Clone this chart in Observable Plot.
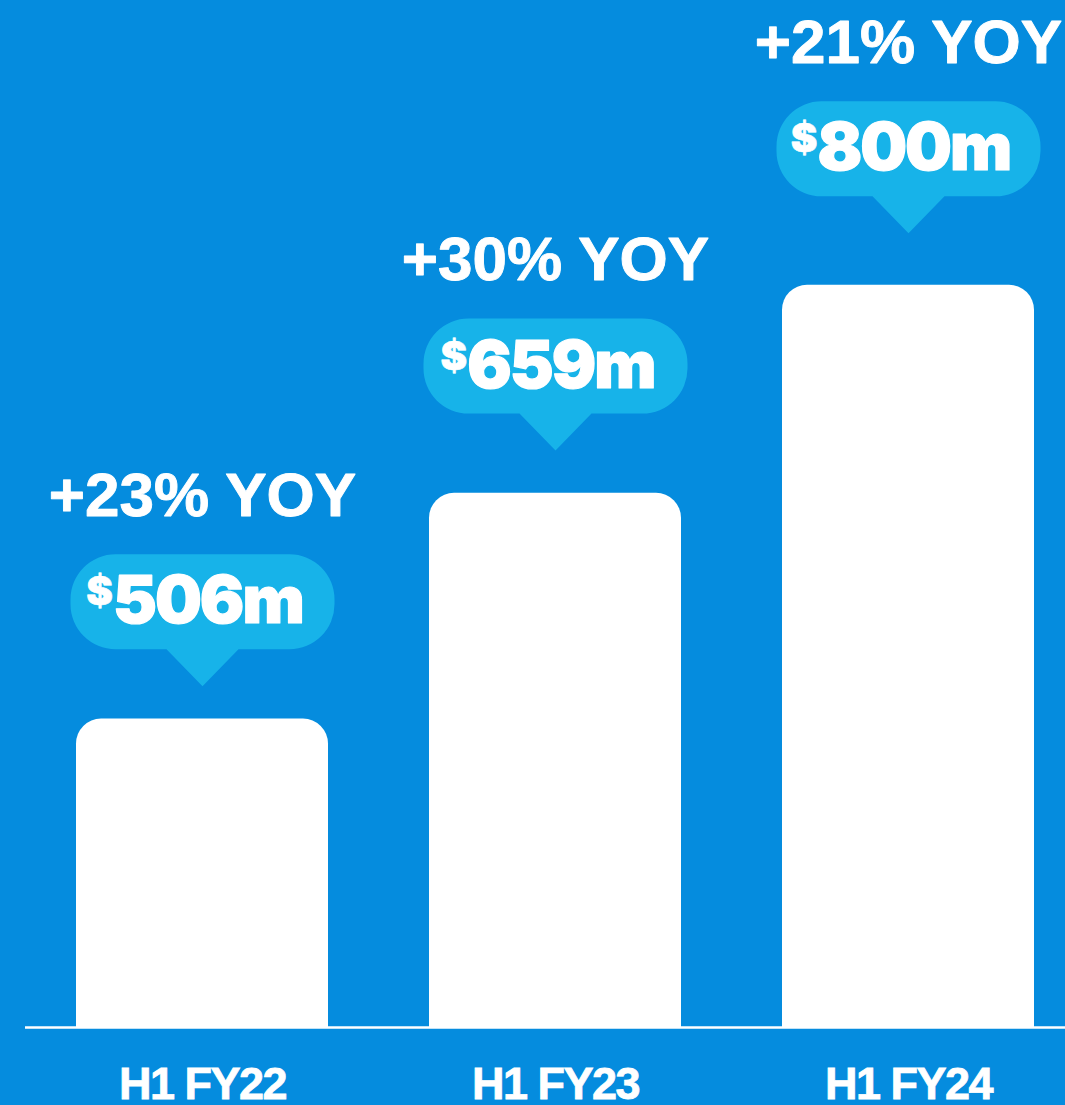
<!DOCTYPE html>
<html>
<head>
<meta charset="utf-8">
<script src="https://cdn.jsdelivr.net/npm/d3@7"></script>
<script src="https://cdn.jsdelivr.net/npm/@observablehq/plot@0.6"></script>
<style>
  html, body { margin: 0; padding: 0; background: #058CDE; }
  #chart svg { display: block; }
  #chart g[aria-label="x-axis tick label"] text {
    font-family: "Liberation Sans", Arial, sans-serif;
    font-weight: 700;
    font-size: 45px;
    letter-spacing: -1.5px;
    fill: #ffffff;
    stroke: #ffffff;
    stroke-width: 0.8px;
  }
</style>
</head>
<body>
<div id="chart"></div>
<script>
// ---- data ----
const periods = ["H1 FY22", "H1 FY23", "H1 FY24"];
const revenue = [506, 659, 800];        // $m
const yoyGrowth = [23, 30, 21];         // % year over year

const data = periods.map((p, i) => ({period: p, value: revenue[i], yoy: yoyGrowth[i]}));

const BG = "#058CDE";
const BUBBLE = "#17B3E9";

// speech bubble symbol, tip at the anchor point
const bubbleSymbol = {
  draw(ctx) {
    const w = 132, top = -132, bot = -37, r = 45;
    ctx.moveTo(-w + r, top);
    ctx.lineTo(w - r, top);
    ctx.arcTo(w, top, w, top + r, r);
    ctx.lineTo(w, bot - r + 0.01);
    ctx.arcTo(w, bot, w - r, bot, r);
    ctx.lineTo(36, bot);
    ctx.lineTo(0, 0);
    ctx.lineTo(-36, bot);
    ctx.lineTo(-w + r, bot);
    ctx.arcTo(-w, bot, -w, bot - r, r);
    ctx.lineTo(-w, top + r);
    ctx.arcTo(-w, top, -w + r, top, r);
    ctx.closePath();
  }
};

const tipY = d => d.value * 1.044;

const chart = Plot.plot({
  width: 1065,
  height: 1105,
  marginLeft: 25,
  marginRight: 0,
  marginTop: 0,
  marginBottom: 78,
  style: {background: BG, color: "#ffffff", overflow: "visible"},
  x: {domain: periods, range: [25, 1085], paddingInner: 0.286, paddingOuter: 0.143, align: 0.5, axis: null, label: null},
  y: {domain: [297, 993], axis: null},
  marks: [
    Plot.barY(data, {x: "period", y1: 270, y2: "value", rx: 25, fill: "#ffffff", clip: true}),
    Plot.ruleY([297], {stroke: "#ffffff", strokeWidth: 2.5}),
    Plot.dot(data, {x: "period", y: tipY, symbol: bubbleSymbol, r: 10, fill: BUBBLE, stroke: "none"}),
    Plot.text(data, {
      x: "period", y: tipY, dy: -84, dx: -4, lineAnchor: "middle",
      text: d => "$" + d.value + "m",
      fill: "#ffffff", stroke: "#ffffff", strokeWidth: 1.2, fontSize: 66, fontWeight: 900,
      fontFamily: "Inter"
    }),
    Plot.text(data, {
      x: "period", y: tipY, dy: -190, lineAnchor: "middle",
      text: d => "+" + d.yoy + "% YOY",
      fill: "#ffffff", stroke: "#ffffff", strokeWidth: 0.9, fontSize: 62, fontWeight: 700,
      fontFamily: "'Liberation Sans', Arial, sans-serif"
    }),
    Plot.axisX({tickSize: 0, tickPadding: 40, fill: "#ffffff", label: null})
  ]
});

// superscript dollar sign
d3.select(chart).selectAll("text").filter(function() {
  return this.textContent.startsWith("$");
}).each(function() {
  const t = this.textContent;
  const sel = d3.select(this);
  sel.text(null);
  sel.append("tspan").attr("font-size", 40).attr("dy", -18).attr("dx", -4).attr("stroke-width", 0.6).text("$");
  sel.append("tspan").attr("dy", 18).attr("letter-spacing", -2).text(t.slice(1));
});

document.getElementById("chart").append(chart);
</script>
</body>
</html>
